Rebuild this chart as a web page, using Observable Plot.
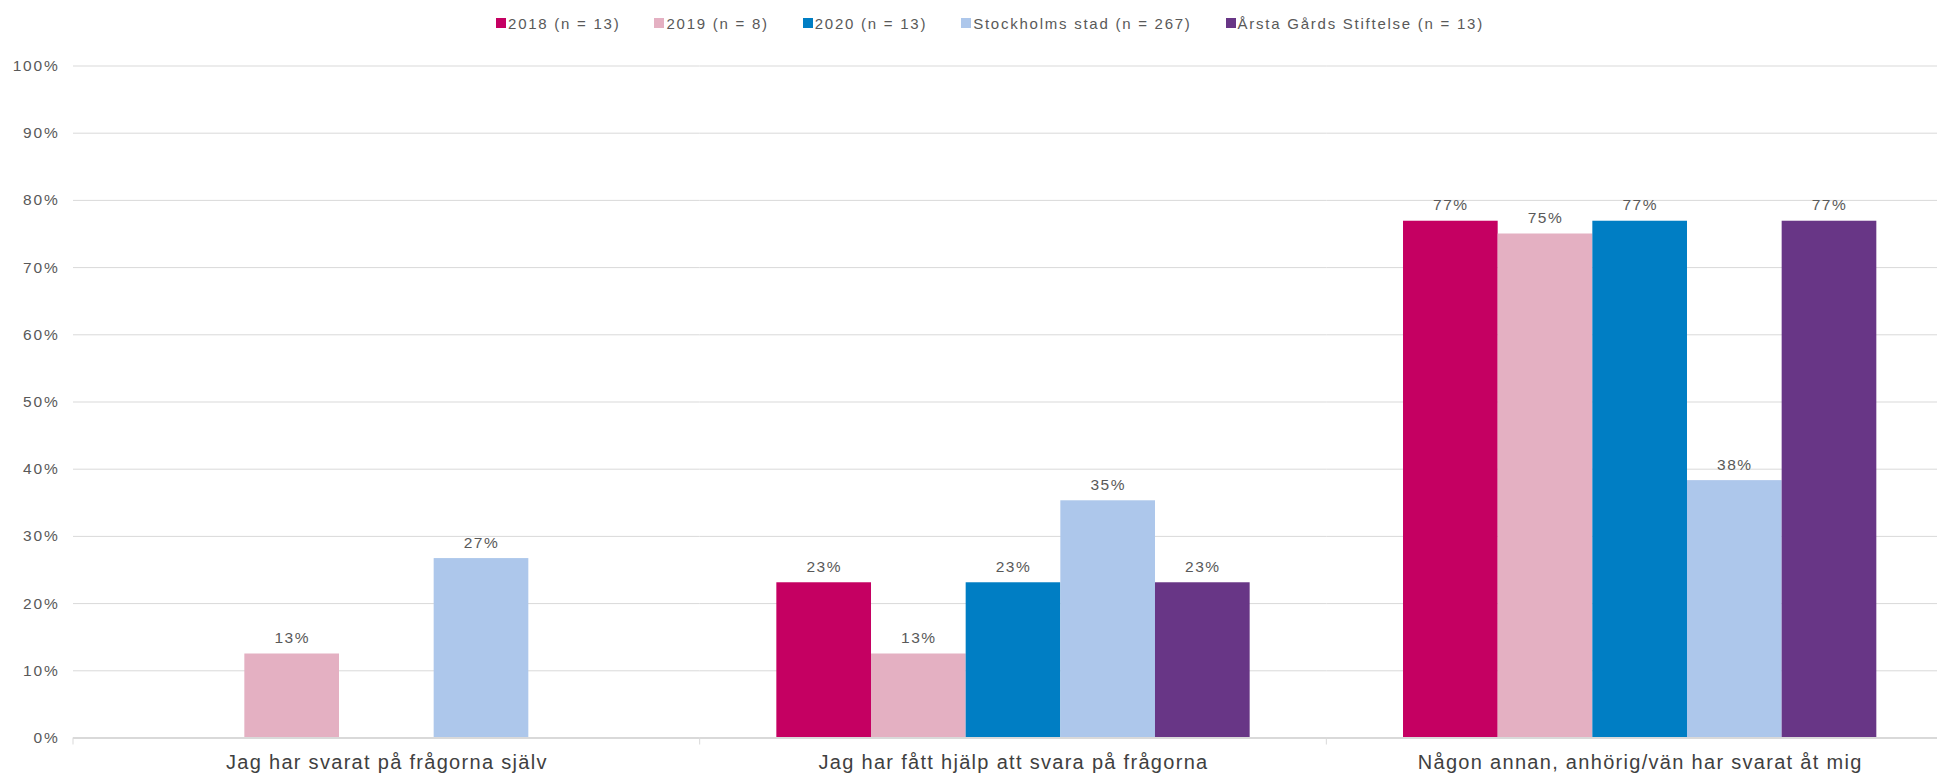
<!DOCTYPE html>
<html><head><meta charset="utf-8">
<script src="https://cdn.jsdelivr.net/npm/d3@7"></script>
<script src="https://cdn.jsdelivr.net/npm/@observablehq/plot@0.6"></script>
<style>
body{margin:0;background:#fff;font-family:"Liberation Sans",Arial,sans-serif;overflow:hidden}
#legend{height:46px;display:flex;justify-content:center;align-items:center;gap:34px;padding-left:43px;font-size:15px;letter-spacing:1.75px;color:#595959}
.item{display:flex;align-items:center;white-space:pre}
.sw{width:10px;height:10px;margin-right:2px}
</style></head><body>
<div id="legend"></div><div id="chart"></div>
<script>
const categories = ["Jag har svarat på frågorna själv", "Jag har fått hjälp att svara på frågorna", "Någon annan, anhörig/vän har svarat åt mig"];
const series = ["2018 (n = 13)", "2019 (n = 8)", "2020 (n = 13)", "Stockholms stad (n = 267)", "Årsta Gårds Stiftelse (n = 13)"];
const colors = ["#C50062", "#E4B0C2", "#007EC4", "#ADC7EB", "#683686"];
const v2018 = [null, 0.231, 0.769];
const v2019 = [0.125, 0.125, 0.75];
const v2020 = [null, 0.231, 0.769];
const vStockholm = [0.267, 0.353, 0.383];
const vArsta = [null, 0.231, 0.769];
const yTicks = [0, 0.1, 0.2, 0.3, 0.4, 0.5, 0.6, 0.7, 0.8, 0.9, 1.0];

const allValues = [v2018, v2019, v2020, vStockholm, vArsta];
const data = [];
categories.forEach((c, i) => series.forEach((s, j) => {
  const v = allValues[j][i];
  if (v != null) data.push({category: c, series: s, value: v});
}));
const pct = d => Math.round(d * 100) + "%";

// legend
const legend = d3.select("#legend");
series.forEach((s, j) => {
  const it = legend.append("div").attr("class", "item");
  it.append("div").attr("class", "sw").style("background", colors[j]);
  it.append("span").text(s);
});

const chart = Plot.plot({
  width: 1937, height: 728,
  marginTop: 19.5, marginBottom: 36.5, marginLeft: 73, marginRight: -16,
  style: {fontFamily: "'Liberation Sans', Arial, sans-serif", background: "#fff", overflow: "visible"},
  fx: {domain: categories, padding: 0, label: null, round: false},
  x: {domain: series, paddingInner: 0, paddingOuter: 0.81, axis: null, round: false},
  y: {domain: [0, 1], label: null},
  color: {domain: series, range: colors},
  marks: [
    Plot.gridY(yTicks, {stroke: "#d9d9d9", strokeOpacity: 1}),
    Plot.axisY(yTicks, {tickFormat: pct, tickSize: 0, tickPadding: 14, fontSize: 15.5, fill: "#595959", label: null}),
    Plot.axisFx({anchor: "bottom", tickSize: 0, tickPadding: 17, fontSize: 20, fill: "#404040", label: null}),
    Plot.barY(data, {fx: "category", x: "series", y: "value", fill: "series"}),
    Plot.ruleY([0], {stroke: "#d9d9d9", strokeWidth: 2}),
    Plot.text(data, {fx: "category", x: "series", y: "value", text: d => pct(d.value), dy: -16, lineAnchor: "middle", fill: "#595959", fontSize: 15.5})
  ]
});
document.getElementById("chart").appendChild(chart);

const svg = d3.select(chart);
svg.selectAll('[aria-label="y-axis tick label"] text').style("letter-spacing", "1.8px");
svg.selectAll('[aria-label="text"] text').style("letter-spacing", "1.5px");
svg.selectAll('[aria-label="fx-axis tick label"] text').style("letter-spacing", "1.3px");

// category boundary ticks below the baseline, from the fx scale
const fx = chart.scale("fx"), ys = chart.scale("y");
const y0 = ys.apply(0);
const edges = categories.map(c => fx.apply(c)).concat([fx.apply(categories[categories.length - 1]) + fx.bandwidth]);
svg.append("g").selectAll("line").data(edges).join("line")
  .attr("x1", d => d).attr("x2", d => d).attr("y1", y0).attr("y2", y0 + 7)
  .attr("stroke", "#d9d9d9").attr("stroke-width", 1);
</script>
</body></html>
